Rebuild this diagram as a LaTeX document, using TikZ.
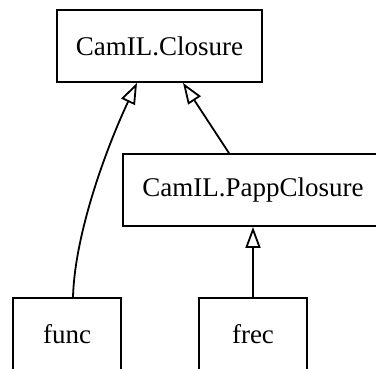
\documentclass[tikz,border=0pt]{standalone}
\usepackage{fontspec}
\setmainfont{Liberation Serif}
\usetikzlibrary{arrows.meta}

\begin{document}
\begin{tikzpicture}[x=1pt,y=1pt,
  classbox/.style={draw=black,line width=1.8pt,inner sep=0pt,minimum height=72pt,font=\fontsize{27}{32}\selectfont},
  inherit/.style={draw=black,line width=1.8pt,-{Triangle[open,length=21pt,width=15pt]}}]

% Fix the page to the picture size
\useasboundingbox (0,0) rectangle (376,369);
\clip (0,0) rectangle (376,369);

% Draw the classes
\node[classbox,minimum width=205pt] (closure) at (159.5,323) {CamIL.Closure};
\node[classbox,minimum width=260pt] (papp) at (253,179) {CamIL.PappClosure};
\node[classbox,minimum width=108pt] (func) at (67,35) {func};
\node[classbox,minimum width=108pt] (frec) at (253,35) {frec};

% Draw the inheritance edges
\draw[inherit] ([xshift=6pt]func.north) .. controls +(2,68) and +(-27,-57) .. ([xshift=-22.5pt]closure.south);
\draw[inherit] ([xshift=-24pt]papp.north) -- ([xshift=23.5pt]closure.south);
\draw[inherit] (frec.north) -- (papp.south);

\end{tikzpicture}
\end{document}
